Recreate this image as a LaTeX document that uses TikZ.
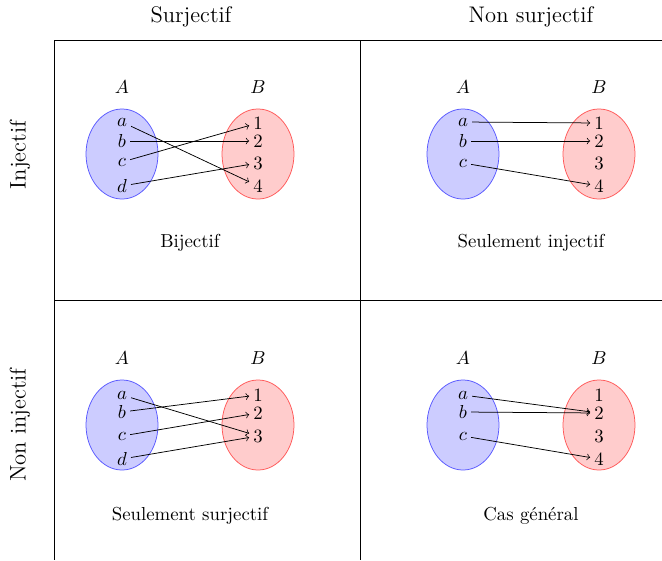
\documentclass[tikz,border=0pt]{standalone}
\usetikzlibrary{shapes.geometric}
\begin{document}
\begin{tikzpicture}[x=0.532pt,y=-0.532pt,
  setA/.style={ellipse,draw=blue!65,fill=blue!20,minimum width=38.3pt,minimum height=47.9pt,inner sep=0pt},
  setB/.style={ellipse,draw=red!65,fill=red!20,minimum width=38.3pt,minimum height=47.9pt,inner sep=0pt},
  elt/.style={inner sep=2pt},
  map/.style={->},
  head/.style={font=\large}]
\useasboundingbox (0,0) rectangle (662,560);

% grid
\draw (54,40) -- (662,40);
\draw (54,300) -- (662,300);
\draw (54,40) -- (54,560);
\draw (360,40) -- (360,560);

% headers
\node[head] (hs) at (191,17) {Surjectif};
\node[head] (hn) at (531,17) {Non surjectif};
\node[head,rotate=90] (vi) at (20,155) {Injectif};
\node[head,rotate=90] (vn) at (20,425) {Non injectif};

% bijective
\begin{scope}
\node[setA] (q1A) at (122,154) {};
\node[setB] (q1B) at (258,154) {};
\node (q1la) at (122,87) {$A$};
\node (q1lb) at (258,87) {$B$};
\node[elt] (q1a) at (122,122) {$a$};
\node[elt] (q1b) at (122,141) {$b$};
\node[elt] (q1c) at (122,162) {$c$};
\node[elt] (q1d) at (122,186) {$d$};
\node[elt] (q11) at (258,123) {$1$};
\node[elt] (q12) at (258,141) {$2$};
\node[elt] (q13) at (258,163) {$3$};
\node[elt] (q14) at (258,186) {$4$};
\draw[map] (q1a) -- (q14);
\draw[map] (q1b) -- (q12);
\draw[map] (q1c) -- (q11);
\draw[map] (q1d) -- (q13);
\node (q1t) at (190,243) {Bijectif};
\end{scope}

% injective only
\begin{scope}[shift={(341,0)}]
\node[setA] (q2A) at (122,154) {};
\node[setB] (q2B) at (258,154) {};
\node (q2la) at (122,87) {$A$};
\node (q2lb) at (258,87) {$B$};
\node[elt] (q2a) at (122,122) {$a$};
\node[elt] (q2b) at (122,141) {$b$};
\node[elt] (q2c) at (122,163) {$c$};
\node[elt] (q21) at (258,123) {$1$};
\node[elt] (q22) at (258,141) {$2$};
\node[elt] (q23) at (258,163) {$3$};
\node[elt] (q24) at (258,186) {$4$};
\draw[map] (q2a) -- (q21);
\draw[map] (q2b) -- (q22);
\draw[map] (q2c) -- (q24);
\node (q2t) at (190,243) {Seulement injectif};
\end{scope}

% surjective only
\begin{scope}[shift={(0,272)}]
\node[setA] (q3A) at (122,153) {};
\node[setB] (q3B) at (258,153) {};
\node (q3la) at (122,86) {$A$};
\node (q3lb) at (258,86) {$B$};
\node[elt] (q3a) at (122,123) {$a$};
\node[elt] (q3b) at (122,140) {$b$};
\node[elt] (q3c) at (122,164) {$c$};
\node[elt] (q3d) at (122,187) {$d$};
\node[elt] (q31) at (258,123) {$1$};
\node[elt] (q32) at (258,141) {$2$};
\node[elt] (q33) at (258,164) {$3$};
\draw[map] (q3a) -- (q33);
\draw[map] (q3b) -- (q31);
\draw[map] (q3c) -- (q32);
\draw[map] (q3d) -- (q33);
\node (q3t) at (190,244) {Seulement surjectif};
\end{scope}

% general case
\begin{scope}[shift={(341,272)}]
\node[setA] (q4A) at (122,153) {};
\node[setB] (q4B) at (258,153) {};
\node (q4la) at (122,86) {$A$};
\node (q4lb) at (258,86) {$B$};
\node[elt] (q4a) at (122,123) {$a$};
\node[elt] (q4b) at (122,140) {$b$};
\node[elt] (q4c) at (122,164) {$c$};
\node[elt] (q41) at (258,123) {$1$};
\node[elt] (q42) at (258,141) {$2$};
\node[elt] (q43) at (258,164) {$3$};
\node[elt] (q44) at (258,187) {$4$};
\draw[map] (q4a) -- (q42);
\draw[map] (q4b) -- (q42);
\draw[map] (q4c) -- (q44);
\node (q4t) at (190,244) {Cas général};
\end{scope}
\end{tikzpicture}
\end{document}
